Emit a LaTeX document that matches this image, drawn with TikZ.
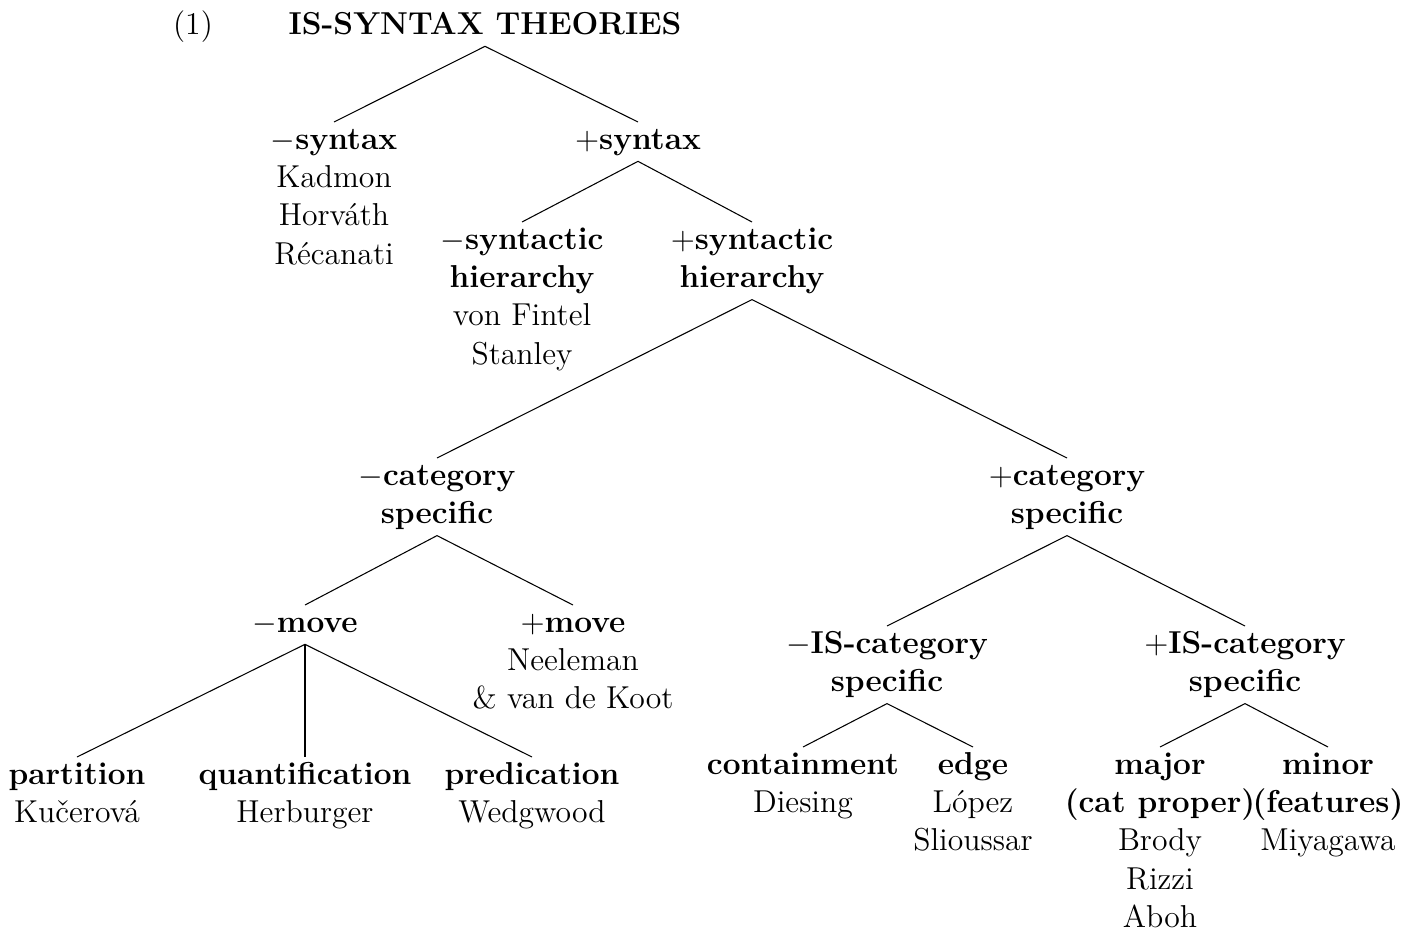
\documentclass[12pt,tikz,border=0pt]{standalone}
\usepackage{tikz}
\usetikzlibrary{positioning}

\newcommand{\lbl}[1]{\strut\textbf{#1}}

\begin{document}
\begin{tikzpicture}[
        x=0.3788pt, y=-0.3788pt,
        every node/.style={inner sep=0pt, anchor=north, align=center, execute at end node=\strut},
        branch/.style={draw=black, line width=0.4pt},
    ]
        \useasboundingbox (0,0) rectangle (1418,932);

        % Root
        \node (exnum) at (193,7) {\strut(1)};
        \node (root) at (485,7) {\lbl{IS-SYNTAX THEORIES}};

        % Level 1
        \node (msyn) at (334,122) {\lbl{$-$syntax}\\Kadmon\\Horváth\\Récanati};
        \node (psyn) at (638,122) {\lbl{$+$syntax}};

        % Level 2
        \node (mhier) at (522,222) {\lbl{$-$syntactic}\\\textbf{hierarchy}\\von Fintel\\Stanley};
        \node (phier) at (752,222) {\lbl{$+$syntactic}\\\textbf{hierarchy}};

        % Level 3
        \node (mcat) at (437,458) {\lbl{$-$category}\\\textbf{specific}};
        \node (pcat) at (1067,458) {\lbl{$+$category}\\\textbf{specific}};

        % Under -category specific
        \node (mmove) at (305,605) {\lbl{$-$move}};
        \node (pmove) at (573,605) {\lbl{$+$move}\\Neeleman\\\& van de Koot};
        \node (part) at (77,757) {\lbl{partition}\\Kučerová};
        \node (quant) at (305,757) {\lbl{quantification}\\Herburger};
        \node (pred) at (532,757) {\lbl{predication}\\Wedgwood};

        % Under +category specific
        \node (miscat) at (887,626) {\lbl{$-$IS-category}\\\textbf{specific}};
        \node (piscat) at (1245,626) {\lbl{$+$IS-category}\\\textbf{specific}};
        \node (contain) at (803,747) {\lbl{containment}\\Diesing};
        \node (edgepos) at (973,747) {\lbl{edge}\\López\\Slioussar};
        \node (major) at (1160,747) {\lbl{major}\\\textbf{(cat proper)}\\Brody\\Rizzi\\Aboh};
        \node (minor) at (1328,747) {\lbl{minor}\\\textbf{(features)}\\Miyagawa};

        % Branches
        \draw[branch] (root.south) -- (msyn.north);
        \draw[branch] (root.south) -- (psyn.north);
        \draw[branch] (psyn.south) -- (mhier.north);
        \draw[branch] (psyn.south) -- (phier.north);
        \draw[branch] (phier.south) -- (mcat.north);
        \draw[branch] (phier.south) -- (pcat.north);
        \draw[branch] (mcat.south) -- (mmove.north);
        \draw[branch] (mcat.south) -- (pmove.north);
        \draw[branch] (mmove.south) -- (part.north);
        \draw[branch] (mmove.south) -- (quant.north);
        \draw[branch] (mmove.south) -- (pred.north);
        \draw[branch] (pcat.south) -- (miscat.north);
        \draw[branch] (pcat.south) -- (piscat.north);
        \draw[branch] (miscat.south) -- (contain.north);
        \draw[branch] (miscat.south) -- (edgepos.north);
        \draw[branch] (piscat.south) -- (major.north);
        \draw[branch] (piscat.south) -- (minor.north);
    \end{tikzpicture}
\end{document}
